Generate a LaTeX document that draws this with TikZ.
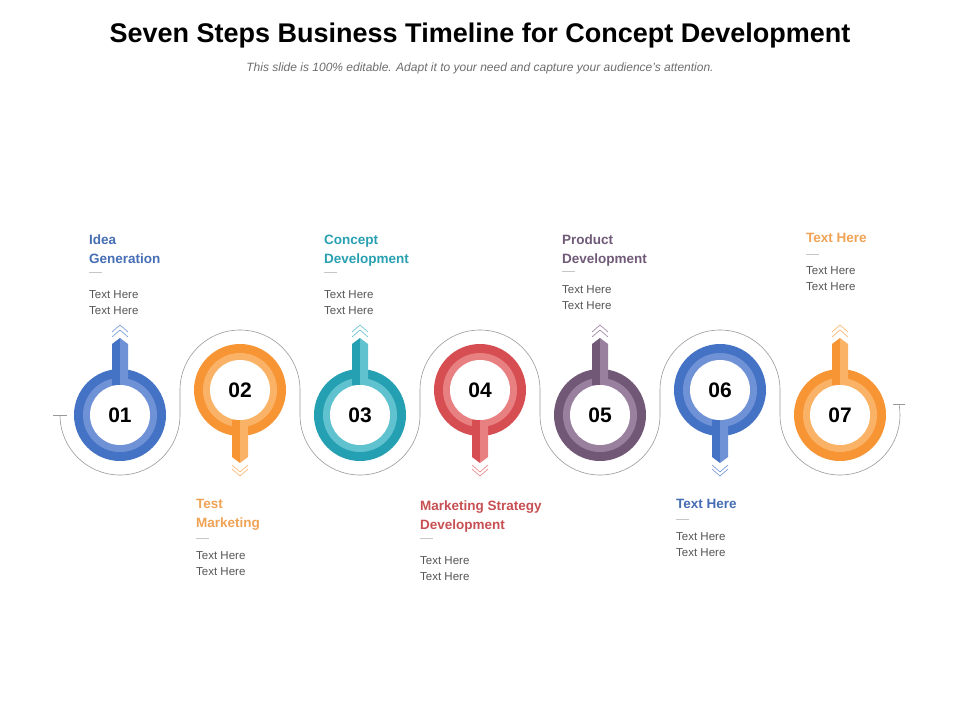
\documentclass[tikz,border=0pt]{standalone}
\usepackage{fontspec}
\setmainfont{Liberation Sans}
\usepackage{tikz}

\definecolor{blueD}{RGB}{68,114,196}
\definecolor{blueL}{RGB}{111,146,214}
\definecolor{orangeD}{RGB}{247,148,52}
\definecolor{orangeL}{RGB}{250,178,102}
\definecolor{tealD}{RGB}{36,160,178}
\definecolor{tealL}{RGB}{96,193,207}
\definecolor{redD}{RGB}{214,78,82}
\definecolor{redL}{RGB}{232,128,130}
\definecolor{purpD}{RGB}{112,88,118}
\definecolor{purpL}{RGB}{152,128,158}
\definecolor{hblue}{RGB}{70,110,180}
\definecolor{horange}{RGB}{241,163,85}
\definecolor{hteal}{RGB}{40,160,178}
\definecolor{hred}{RGB}{200,80,84}
\definecolor{hpurp}{RGB}{112,90,120}
\definecolor{textgray}{RGB}{85,85,85}
\definecolor{subgray}{RGB}{110,110,110}

\tikzset{
  title/.style={anchor=base,inner sep=0pt,font=\bfseries\fontsize{27}{30}\selectfont},
  subtitle/.style={anchor=base,inner sep=0pt,text=subgray,font=\itshape\fontsize{12}{14}\selectfont},
  heading/.style={anchor=north west,inner sep=0pt,align=left,font=\bfseries\fontsize{13.5}{19}\selectfont},
  body/.style={anchor=north west,inner sep=0pt,align=left,text=textgray,font=\fontsize{11.5}{16}\selectfont},
  rule/.style={draw=gray!45,line width=0.6pt},
  chev/.style={line width=0.6pt},
  number/.style={circle,fill=white,minimum size=60pt,inner sep=0pt,font=\bfseries\fontsize{21}{21}\selectfont},
  track/.style={draw=gray!80,line width=0.6pt}
}

% marker with the stem on top: x, number, dark, light
\newcommand{\pinup}[4]{%
  \fill[#3] (#1,415) circle[radius=46];
  \fill[#4] (#1,415) circle[radius=37];
  \fill[#3] (#1-8,385) -- (#1-8,344) -- (#1,338) -- (#1,385) -- cycle;
  \fill[#4] (#1,385) -- (#1,338) -- (#1+8,344) -- (#1+8,385) -- cycle;
  \draw[chev,#4] (#1-8,332) -- (#1,325) -- (#1+8,332);
  \draw[chev,#4] (#1-8,337) -- (#1,330) -- (#1+8,337);
  \node[number] (n#2) at (#1,415) {#2};
}
% marker with the stem below
\newcommand{\pindown}[4]{%
  \fill[#3] (#1,390) circle[radius=46];
  \fill[#4] (#1,390) circle[radius=37];
  \fill[#3] (#1-8,420) -- (#1-8,457) -- (#1,463) -- (#1,420) -- cycle;
  \fill[#4] (#1,420) -- (#1,463) -- (#1+8,457) -- (#1+8,420) -- cycle;
  \draw[chev,#4] (#1-8,465) -- (#1,472) -- (#1+8,465);
  \draw[chev,#4] (#1-8,469) -- (#1,476) -- (#1+8,469);
  \node[number] (n#2) at (#1,390) {#2};
}

\begin{document}
\begin{tikzpicture}[x=1pt,y=-1pt]
  \fill[white] (0,0) rectangle (960,720);
  \useasboundingbox (0,0) rectangle (960,720);

  % Title
  \node[title] (title) at (480,42) {Seven Steps Business Timeline for Concept Development};
  \node[subtitle] (subtitle) at (480,71) {This slide is 100\% editable. Adapt it to your need and capture your audience’s attention.};

  % Track
  \coordinate (trackstart) at (60,415);
  \draw[track] (trackstart) arc[start angle=180,end angle=0,radius=60]
    -- (180,390) arc[start angle=180,end angle=360,radius=60]
    -- (300,415) arc[start angle=180,end angle=0,radius=60]
    -- (420,390) arc[start angle=180,end angle=360,radius=60]
    -- (540,415) arc[start angle=180,end angle=0,radius=60]
    -- (660,390) arc[start angle=180,end angle=360,radius=60]
    -- (780,415) arc[start angle=180,end angle=-10,radius=60] coordinate (trackend);
  \draw[track] ([xshift=-7pt]trackstart) -- ([xshift=7pt]trackstart);
  \draw[track] ([xshift=-6pt]trackend) -- ([xshift=6pt]trackend);

  % Markers
  \pinup{120}{01}{blueD}{blueL}
  \pindown{240}{02}{orangeD}{orangeL}
  \pinup{360}{03}{tealD}{tealL}
  \pindown{480}{04}{redD}{redL}
  \pinup{600}{05}{purpD}{purpL}
  \pindown{720}{06}{blueD}{blueL}
  \pinup{840}{07}{orangeD}{orangeL}

  % Texts above
  \node[heading,text=hblue] (h1) at (89,234.4) {Idea\\Generation};
  \draw[rule] (89,272) -- (102,272);
  \node[body] (t1) at (89,290.8) {Text Here\\Text Here};

  \node[heading,text=hteal] (h3) at (324,234.4) {Concept\\Development};
  \draw[rule] (324,272) -- (337,272);
  \node[body] (t3) at (324,290.8) {Text Here\\Text Here};

  \node[heading,text=hpurp] (h5) at (562,234.4) {Product\\Development};
  \draw[rule] (562,271) -- (575,271);
  \node[body] (t5) at (562,285.8) {Text Here\\Text Here};

  \node[heading,text=horange] (h7) at (806,233.4) {Text Here};
  \draw[rule] (806,254) -- (819,254);
  \node[body] (t7) at (806,266.8) {Text Here\\Text Here};

  % Texts below
  \node[heading,text=horange] (h2) at (196,499.4) {Test\\Marketing};
  \draw[rule] (196,538) -- (209,538);
  \node[body] (t2) at (196,551.8) {Text Here\\Text Here};

  \node[heading,text=hred] (h4) at (420,500.4) {Marketing Strategy\\Development};
  \draw[rule] (420,538) -- (433,538);
  \node[body] (t4) at (420,556.8) {Text Here\\Text Here};

  \node[heading,text=hblue] (h6) at (676,499.4) {Text Here};
  \draw[rule] (676,519) -- (689,519);
  \node[body] (t6) at (676,532.8) {Text Here\\Text Here};
\end{tikzpicture}
\end{document}
